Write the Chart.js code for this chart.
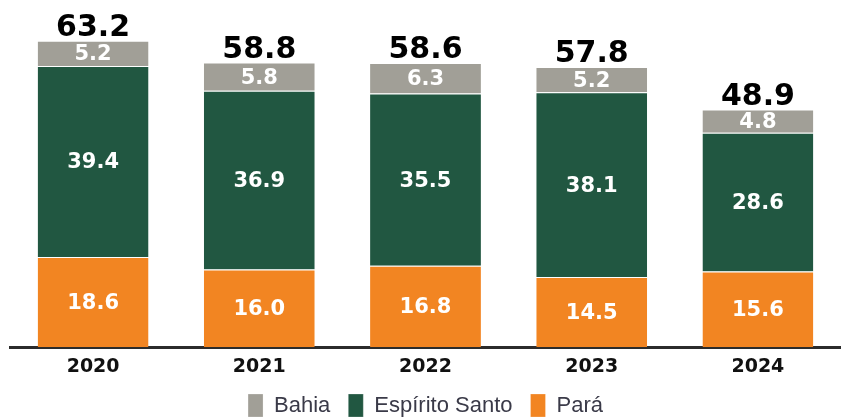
<!DOCTYPE html>
<html>
<head>
<meta charset="utf-8">
<script src="https://cdn.jsdelivr.net/npm/chart.js@4/dist/chart.umd.min.js"></script>
<style>
  html, body { margin: 0; padding: 0; background: #fff; }
  #wrap { width: 841px; height: 419px; position: relative; }
</style>
</head>
<body>
<div id="wrap"><canvas id="chart"></canvas></div>
<script>
// data
const years = ['2020', '2021', '2022', '2023', '2024'];
const para = [18.6, 16.0, 16.8, 14.5, 15.6];
const espiritoSanto = [39.4, 36.9, 35.5, 38.1, 28.6];
const bahia = [5.2, 5.8, 6.3, 5.2, 4.8];
const totals = [63.2, 58.8, 58.6, 57.8, 48.9];

const BOLD = "'DejaVu Sans', Verdana, sans-serif";
const PLAIN = "'Liberation Sans', Arial, sans-serif";

// writes the values inside the segments and the totals above the bars
const valueLabels = {
  id: 'valueLabels',
  afterDatasetsDraw(chart) {
    const ctx = chart.ctx;
    ctx.save();
    ctx.textAlign = 'center';
    ctx.textBaseline = 'alphabetic';
    chart.data.datasets.forEach((ds, i) => {
      const meta = chart.getDatasetMeta(i);
      meta.data.forEach((bar, j) => {
        const mid = (bar.y + bar.base) / 2;
        ctx.fillStyle = '#ffffff';
        ctx.font = 'bold 21px ' + BOLD;
        ctx.fillText(ds.data[j].toFixed(1), bar.x, mid + 7);
      });
    });
    const top = chart.getDatasetMeta(chart.data.datasets.length - 1);
    top.data.forEach((bar, j) => {
      ctx.fillStyle = '#000000';
      ctx.font = 'bold 30px ' + BOLD;
      ctx.fillText(totals[j].toFixed(1), bar.x, bar.y - 5);
    });
    ctx.restore();
  }
};

// legend sits tight against the bottom edge: trim its height, draw it a bit higher
const legendTrim = {
  id: 'legendTrim',
  beforeInit(chart) {
    const legend = chart.legend;
    const fit = legend.fit;
    legend.fit = function () {
      fit.call(this);
      this.height -= 18;
    };
    const draw = legend.draw;
    legend.draw = function () {
      this.top -= 10;
      draw.call(this);
      this.top += 10;
    };
  }
};

new Chart(document.getElementById('chart'), {
  type: 'bar',
  data: {
    labels: years,
    datasets: [
      { label: 'Pará', data: para, backgroundColor: '#f28522' },
      { label: 'Espírito Santo', data: espiritoSanto, backgroundColor: '#215741' },
      { label: 'Bahia', data: bahia, backgroundColor: '#a19f97' }
    ]
  },
  options: {
    responsive: true,
    maintainAspectRatio: false,
    animation: false,
    layout: { padding: { left: 10, right: 0, top: 0, bottom: 0 } },
    datasets: {
      bar: {
        barPercentage: 0.667,
        categoryPercentage: 1,
        borderColor: '#ffffff',
        borderWidth: { top: 1 },
        borderSkipped: 'bottom'
      }
    },
    scales: {
      x: {
        stacked: true,
        grid: { display: false, drawTicks: false },
        border: { display: true, color: '#2b2b2b', width: 3 },
        ticks: {
          color: '#111111',
          padding: 8,
          font: { family: BOLD, size: 19, weight: 'bold' }
        }
      },
      y: {
        stacked: true,
        display: false,
        min: 0,
        max: 71.6
      }
    },
    plugins: {
      legend: {
        position: 'bottom',
        reverse: true,
        labels: {
          boxWidth: 15,
          boxHeight: 23,
          padding: 18,
          color: '#3a3a48',
          font: { family: PLAIN, size: 22 }
        }
      },
      tooltip: { enabled: false }
    }
  },
  plugins: [valueLabels, legendTrim]
});
</script>
</body>
</html>
